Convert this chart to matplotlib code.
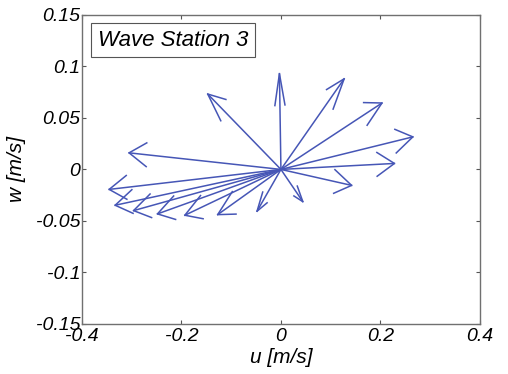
import numpy as np
import matplotlib
matplotlib.use('Agg')
import matplotlib.pyplot as plt

plt.rcParams['font.family'] = 'Liberation Sans'
plt.rcParams['font.style'] = 'italic'
plt.rcParams['font.size'] = 14

# velocity vectors (all start at the origin)
u = [-0.003, 0.127, 0.203, 0.265, 0.228, 0.142, 0.044, -0.048,
     -0.127, -0.193, -0.248, -0.296, -0.333, -0.345, -0.305, -0.147]
w = [0.093, 0.088, 0.0645, 0.0316, 0.0058, -0.0155, -0.0313, -0.0406,
     -0.0439, -0.0445, -0.0432, -0.040, -0.0348, -0.0194, 0.0161, 0.0732]

xticks = [-0.4, -0.2, 0, 0.2, 0.4]
yticks = [-0.15, -0.1, -0.05, 0, 0.05, 0.1, 0.15]
arrow_color = '#4656b6'

fig = plt.figure(figsize=(5.08, 3.74), dpi=100)
ax = fig.add_axes([0.161, 0.134, 0.784, 0.826])

# matlab style quiver heads (open V, size capped)
beta = 0.33
for uu, vv in zip(u, w):
    L = np.hypot(uu, vv)
    a = min(0.33, 0.035 / L)
    ax.plot([0, uu], [0, vv], color=arrow_color, lw=1.1)
    hx = [uu - a * (uu + beta * vv), uu, uu - a * (uu - beta * vv)]
    hy = [vv - a * (vv - beta * uu), vv, vv - a * (vv + beta * uu)]
    ax.plot(hx, hy, color=arrow_color, lw=1.1)

ax.set_xlim(-0.4, 0.4)
ax.set_ylim(-0.15, 0.15)
ax.set_xticks(xticks)
ax.set_yticks(yticks)
ax.set_xticklabels(['%g' % t for t in xticks])
ax.set_yticklabels(['%g' % t for t in yticks])
ax.tick_params(direction='in', length=3, width=0.8, color='#555555',
               top=True, right=True, labelsize=14)
ax.tick_params(axis='y', pad=1)
ax.tick_params(axis='x', pad=3)
for s in ax.spines.values():
    s.set_color('#707070')
    s.set_linewidth(1.0)

ax.set_xlabel('u [m/s]', fontsize=15, labelpad=2)
ax.set_ylabel('w [m/s]', fontsize=15, labelpad=7)

ax.text(0.04, 0.918, 'Wave Station 3', transform=ax.transAxes, fontsize=16,
        va='center', ha='left',
        bbox=dict(boxstyle='square,pad=0.3', fc='white', ec='#555555', lw=0.8))

fig.savefig('out.png', dpi=100)
